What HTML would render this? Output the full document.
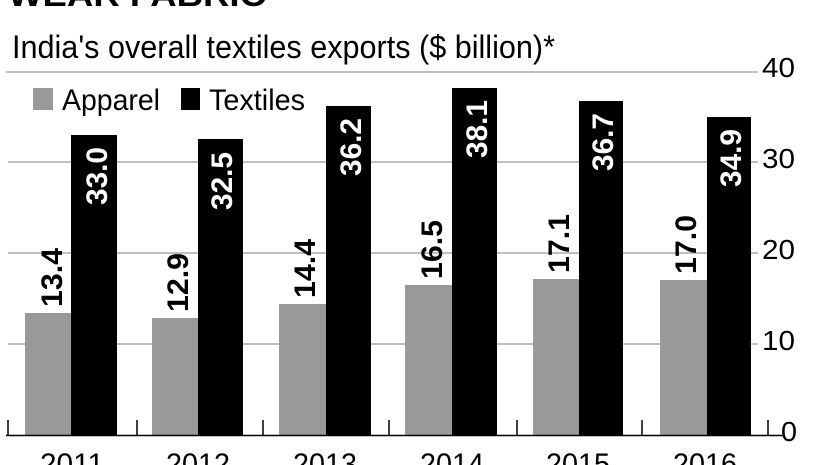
<!DOCTYPE html>
<html><head><style>
html,body{margin:0;padding:0;background:#fff;}
svg{display:block;}
</style></head><body>
<svg width="826" height="465" viewBox="0 0 826 465" xmlns="http://www.w3.org/2000/svg" font-family="Liberation Sans, sans-serif">
<text x="8" y="6" font-size="32" font-weight="bold" textLength="258" lengthAdjust="spacingAndGlyphs">WEAR FABRIC</text>
<text x="12" y="58" font-size="32" textLength="543" lengthAdjust="spacingAndGlyphs">India's overall textiles exports ($ billion)*</text>
<line x1="6" y1="72" x2="758" y2="72" stroke="#aaa" stroke-width="1.5"/>
<line x1="8" y1="162" x2="758" y2="162" stroke="#aaa" stroke-width="1.5"/>
<line x1="8" y1="253" x2="758" y2="253" stroke="#aaa" stroke-width="1.5"/>
<line x1="8" y1="344" x2="758" y2="344" stroke="#aaa" stroke-width="1.5"/>
<g font-size="28">
<text x="762" y="77" textLength="33" lengthAdjust="spacingAndGlyphs">40</text>
<text x="762" y="168" textLength="33" lengthAdjust="spacingAndGlyphs">30</text>
<text x="762" y="259" textLength="33" lengthAdjust="spacingAndGlyphs">20</text>
<text x="762" y="350" textLength="33" lengthAdjust="spacingAndGlyphs">10</text>
<text x="781" y="441" textLength="16" lengthAdjust="spacingAndGlyphs">0</text>
</g>
<rect x="33" y="88" width="20" height="22" fill="#999"/>
<text x="62" y="110" font-size="30" textLength="98" lengthAdjust="spacingAndGlyphs">Apparel</text>
<rect x="181" y="88" width="19" height="22" fill="#000"/>
<text x="209" y="110" font-size="30" textLength="96" lengthAdjust="spacingAndGlyphs">Textiles</text>
<g>
<rect x="25" y="313" width="46" height="122" fill="#999"/>
<rect x="71" y="135" width="46" height="300" fill="#000"/>
<rect x="152" y="318" width="46" height="117" fill="#999"/>
<rect x="198" y="139" width="45" height="296" fill="#000"/>
<rect x="279" y="304" width="47" height="131" fill="#999"/>
<rect x="326" y="106" width="45" height="329" fill="#000"/>
<rect x="405" y="285" width="47" height="150" fill="#999"/>
<rect x="452" y="88" width="45" height="347" fill="#000"/>
<rect x="533" y="279" width="46" height="156" fill="#999"/>
<rect x="579" y="101" width="44" height="334" fill="#000"/>
<rect x="660" y="280" width="47" height="155" fill="#999"/>
<rect x="707" y="117" width="44" height="318" fill="#000"/>
</g>
<g font-size="30" font-weight="bold">
<text transform="translate(62,307) rotate(-90)" textLength="59" lengthAdjust="spacingAndGlyphs">13.4</text>
<text transform="translate(188,312) rotate(-90)" textLength="59" lengthAdjust="spacingAndGlyphs">12.9</text>
<text transform="translate(315,298) rotate(-90)" textLength="59" lengthAdjust="spacingAndGlyphs">14.4</text>
<text transform="translate(442,279) rotate(-90)" textLength="59" lengthAdjust="spacingAndGlyphs">16.5</text>
<text transform="translate(569,273) rotate(-90)" textLength="59" lengthAdjust="spacingAndGlyphs">17.1</text>
<text transform="translate(696,274) rotate(-90)" textLength="59" lengthAdjust="spacingAndGlyphs">17.0</text>
<g fill="#fff">
<text transform="translate(107,205) rotate(-90)" textLength="58" lengthAdjust="spacingAndGlyphs">33.0</text>
<text transform="translate(232,210) rotate(-90)" textLength="58" lengthAdjust="spacingAndGlyphs">32.5</text>
<text transform="translate(361,176) rotate(-90)" textLength="58" lengthAdjust="spacingAndGlyphs">36.2</text>
<text transform="translate(487,158) rotate(-90)" textLength="58" lengthAdjust="spacingAndGlyphs">38.1</text>
<text transform="translate(613,171) rotate(-90)" textLength="58" lengthAdjust="spacingAndGlyphs">36.7</text>
<text transform="translate(741,187) rotate(-90)" textLength="58" lengthAdjust="spacingAndGlyphs">34.9</text>
</g>
</g>
<line x1="6" y1="435.5" x2="783" y2="435.5" stroke="#000" stroke-width="1.5"/>
<g stroke="#000" stroke-width="1.5">
<line x1="8" y1="420" x2="8" y2="435"/>
<line x1="137" y1="420" x2="137" y2="435"/>
<line x1="263" y1="420" x2="263" y2="435"/>
<line x1="389" y1="420" x2="389" y2="435"/>
<line x1="517" y1="420" x2="517" y2="435"/>
<line x1="642" y1="420" x2="642" y2="435"/>
<line x1="768" y1="420" x2="768" y2="435"/>
</g>
<g font-size="30" text-anchor="middle">
<text x="72" y="474" textLength="64" lengthAdjust="spacingAndGlyphs">2011</text>
<text x="198" y="474" textLength="64" lengthAdjust="spacingAndGlyphs">2012</text>
<text x="325" y="474" textLength="64" lengthAdjust="spacingAndGlyphs">2013</text>
<text x="452" y="474" textLength="64" lengthAdjust="spacingAndGlyphs">2014</text>
<text x="578" y="474" textLength="64" lengthAdjust="spacingAndGlyphs">2015</text>
<text x="705" y="474" textLength="64" lengthAdjust="spacingAndGlyphs">2016</text>
</g>
</svg>
</body></html>
